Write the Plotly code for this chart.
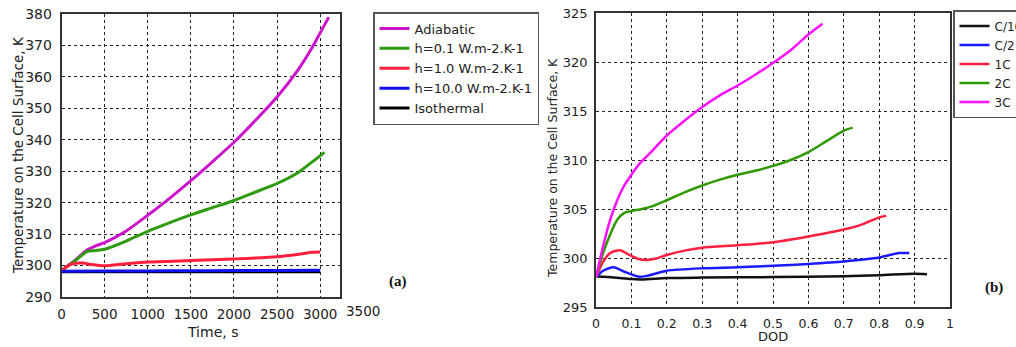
import plotly.graph_objects as go

W, H = 1016, 347

# ---------- panel (a): temperature vs time ----------
t_adiabatic = [0, 50, 150, 300, 400, 500, 750, 1000, 1250, 1500, 1750, 2000, 2250, 2500, 2750, 2900, 3000, 3100]
T_adiabatic = [298, 299.5, 301.5, 305.0, 306.3, 307.3, 311.0, 316.0, 321.3, 327.0, 333.0, 339.2, 346.2, 353.6, 362.5, 369.0, 374.0, 379.0]

t_h01 = [0, 50, 150, 300, 400, 500, 750, 1000, 1250, 1500, 1750, 2000, 2250, 2500, 2750, 2900, 3050]
T_h01 = [298, 299.4, 301.3, 304.5, 304.8, 305.2, 307.8, 310.9, 313.6, 316.1, 318.4, 320.7, 323.4, 326.1, 329.7, 332.8, 336.0]

t_h1 = [0, 50, 150, 250, 350, 500, 750, 1000, 1500, 2000, 2500, 2750, 2900, 3000]
T_h1 = [298.2, 299.5, 300.7, 300.8, 300.3, 299.9, 300.6, 301.1, 301.6, 302.1, 302.8, 303.6, 304.2, 304.3]

t_h10 = [0, 500, 1000, 1500, 2000, 2500, 3000]
T_h10 = [298.2, 298.3, 298.3, 298.35, 298.4, 298.45, 298.5]

t_iso = [0, 500, 1000, 1500, 2000, 2500, 3000]
T_iso = [298, 298, 298, 298, 298, 298, 298]

names_a = ["Adiabatic", "h=0.1 W.m-2.K-1", "h=1.0 W.m-2.K-1", "h=10.0 W.m-2.K-1", "Isothermal"]
colors_a = ["#CC14CC", "#2E9A10", "#FF1F3A", "#1010F0", "#000000"]

xticks_a = [0, 500, 1000, 1500, 2000, 2500, 3000]
extra_tick_a = 3500
yticks_a = [290, 300, 310, 320, 330, 340, 350, 360, 370, 380]

# ---------- panel (b): temperature vs DOD ----------
d_c10 = [0, 0.05, 0.1, 0.13, 0.2, 0.3, 0.5, 0.7, 0.8, 0.9, 0.935]
T_c10 = [298.1, 298.0, 297.85, 297.8, 297.95, 298.0, 298.05, 298.15, 298.25, 298.4, 298.35]

d_c2 = [0, 0.02, 0.05, 0.08, 0.12, 0.14, 0.2, 0.3, 0.4, 0.5, 0.6, 0.7, 0.8, 0.83, 0.855, 0.885]
T_c2 = [298, 298.7, 299.05, 298.6, 298.1, 298.15, 298.7, 298.95, 299.05, 299.2, 299.4, 299.65, 300.05, 300.3, 300.5, 300.5]

d_1c = [0, 0.02, 0.04, 0.068, 0.09, 0.12, 0.145, 0.17, 0.2, 0.25, 0.3, 0.4, 0.5, 0.6, 0.7, 0.75, 0.8, 0.82]
T_1c = [298, 299.6, 300.5, 300.8, 300.4, 299.9, 299.8, 299.95, 300.3, 300.75, 301.05, 301.3, 301.6, 302.2, 302.9, 303.4, 304.15, 304.3]

d_2c = [0, 0.02, 0.04, 0.06, 0.08, 0.1, 0.13, 0.16, 0.2, 0.25, 0.3, 0.35, 0.4, 0.45, 0.5, 0.55, 0.6, 0.65, 0.7, 0.725]
T_2c = [298, 300.5, 302.4, 303.9, 304.6, 304.8, 305.0, 305.3, 305.9, 306.7, 307.4, 308.0, 308.5, 308.9, 309.4, 310.0, 310.8, 311.9, 313.0, 313.3]

d_3c = [0, 0.02, 0.04, 0.06, 0.08, 0.1, 0.125, 0.15, 0.2, 0.25, 0.3, 0.35, 0.4, 0.45, 0.5, 0.55, 0.6, 0.64]
T_3c = [298, 301.2, 303.9, 305.9, 307.4, 308.5, 309.7, 310.6, 312.5, 314.0, 315.4, 316.6, 317.6, 318.7, 319.9, 321.2, 322.8, 323.9]

names_b = ["C/10", "C/2", "1C", "2C", "3C"]
colors_b = ["#111111", "#1A1AFF", "#FF1F40", "#2E9900", "#FF10FF"]

xticks_b = [0, 0.1, 0.2, 0.3, 0.4, 0.5, 0.6, 0.7, 0.8, 0.9, 1]
xticktext_b = ["0", "0.1", "0.2", "0.3", "0.4", "0.5", "0.6", "0.7", "0.8", "0.9", "1"]
yticks_b = [295, 300, 305, 310, 315, 320, 325]

ytitle = "Temperature on the Cell Surface, K"

# ---------- layout geometry ----------
xa_dom = [61.5 / W, 340 / W]
ya_dom = [1 - 297 / H, 1 - 14 / H]
xa_range = [0, 3230]
xb_dom = [596 / W, 950 / W]
yb_dom = [1 - 307 / H, 1 - 13 / H]

FONT = "DejaVu Sans, Verdana, sans-serif"
TXT = "#222222"

fig = go.Figure()

series_a = [(t_adiabatic, T_adiabatic), (t_h01, T_h01), (t_h1, T_h1), (t_h10, T_h10), (t_iso, T_iso)]
order_a = [0, 1, 2, 4, 3]
for i in order_a:
    x, y = series_a[i]
    fig.add_trace(go.Scatter(x=x, y=y, mode="lines", name=names_a[i],
                             line=dict(color=colors_a[i], width=3, shape="spline", smoothing=0.7),
                             xaxis="x", yaxis="y", legend="legend", legendrank=i + 1))

series_b = [(d_c10, T_c10), (d_c2, T_c2), (d_1c, T_1c), (d_2c, T_2c), (d_3c, T_3c)]
for i, (x, y) in enumerate(series_b):
    fig.add_trace(go.Scatter(x=x, y=y, mode="lines", name=names_b[i],
                             line=dict(color=colors_b[i], width=2.5, shape="spline", smoothing=0.7),
                             xaxis="x2", yaxis="y2", legend="legend2", legendrank=i + 1))

axis_common = dict(showgrid=True, gridcolor="#222222", griddash="dot", gridwidth=1,
                   showline=True, linecolor="#333333", linewidth=1.5, mirror=True,
                   zeroline=False, ticks="", color=TXT)

fig.update_layout(
    width=W, height=H,
    margin=dict(l=0, r=0, t=0, b=0, autoexpand=False),
    paper_bgcolor="white", plot_bgcolor="white",
    font=dict(family=FONT, color=TXT),
    xaxis=dict(domain=xa_dom, range=xa_range, tickvals=xticks_a, anchor="y",
               tickfont=dict(size=13.5), ticklabelstandoff=4, **axis_common),
    yaxis=dict(domain=ya_dom, range=[290, 380], tickvals=yticks_a, anchor="x",
               tickfont=dict(size=14), ticklabelstandoff=5, **axis_common),
    xaxis2=dict(domain=xb_dom, range=[0, 1], tickvals=xticks_b, ticktext=xticktext_b, anchor="y2",
                tickfont=dict(size=12.5), ticklabelstandoff=4, **axis_common),
    yaxis2=dict(domain=yb_dom, range=[295, 325], tickvals=yticks_b, anchor="x2",
                tickfont=dict(size=13), ticklabelstandoff=4, **axis_common),
    legend=dict(x=373 / W, y=1 - 12 / H, xanchor="left", yanchor="top",
                bordercolor="#555555", borderwidth=1.5, bgcolor="white", itemwidth=30,
                font=dict(size=13, family=FONT, color=TXT), tracegroupgap=0),
    legend2=dict(x=953 / W, y=1 - 10 / H, xanchor="left", yanchor="top",
                 bordercolor="#555555", borderwidth=1.5, bgcolor="white", itemwidth=30,
                 font=dict(size=12, family=FONT, color=TXT), tracegroupgap=0),
    showlegend=True,
)

# extra tick label beyond the panel (a) frame
frac = extra_tick_a / xa_range[1]
fig.add_annotation(text=str(extra_tick_a), xref="paper", yref="paper",
                   x=xa_dom[0] + frac * (xa_dom[1] - xa_dom[0]), y=1 - 311 / H,
                   showarrow=False, font=dict(size=13.5, family=FONT, color=TXT),
                   xanchor="center", yanchor="middle")

# axis titles
fig.add_annotation(text="Time, s", xref="x", yref="paper", x=extra_tick_a / 2, y=1 - 332 / H,
                   showarrow=False, font=dict(size=14, family=FONT, color=TXT),
                   xanchor="center", yanchor="middle")
fig.add_annotation(text="DOD", xref="paper", yref="paper", x=773 / W, y=1 - 336 / H,
                   showarrow=False, font=dict(size=13, family=FONT, color=TXT),
                   xanchor="center", yanchor="middle")
fig.add_annotation(text=ytitle, xref="paper", yref="paper", x=18 / W, y=1 - 155 / H,
                   textangle=-90, showarrow=False, font=dict(size=13.5, family=FONT, color=TXT),
                   xanchor="center", yanchor="middle")
fig.add_annotation(text=ytitle, xref="paper", yref="paper", x=552 / W, y=1 - 168 / H,
                   textangle=-90, showarrow=False, font=dict(size=12.5, family=FONT, color=TXT),
                   xanchor="center", yanchor="middle")

# panel labels
fig.add_annotation(text="<b>(a)</b>", xref="paper", yref="paper", x=398 / W, y=1 - 281 / H,
                   showarrow=False, font=dict(size=15, family="Liberation Serif, serif", color="#111111"),
                   xanchor="center", yanchor="middle")
fig.add_annotation(text="<b>(b)</b>", xref="paper", yref="paper", x=994 / W, y=1 - 287 / H,
                   showarrow=False, font=dict(size=15, family="Liberation Serif, serif", color="#111111"),
                   xanchor="center", yanchor="middle")

fig.write_html("out.html", config={"displayModeBar": False},
               post_script="document.body.style.margin='0px';document.body.style.overflow='hidden';")
